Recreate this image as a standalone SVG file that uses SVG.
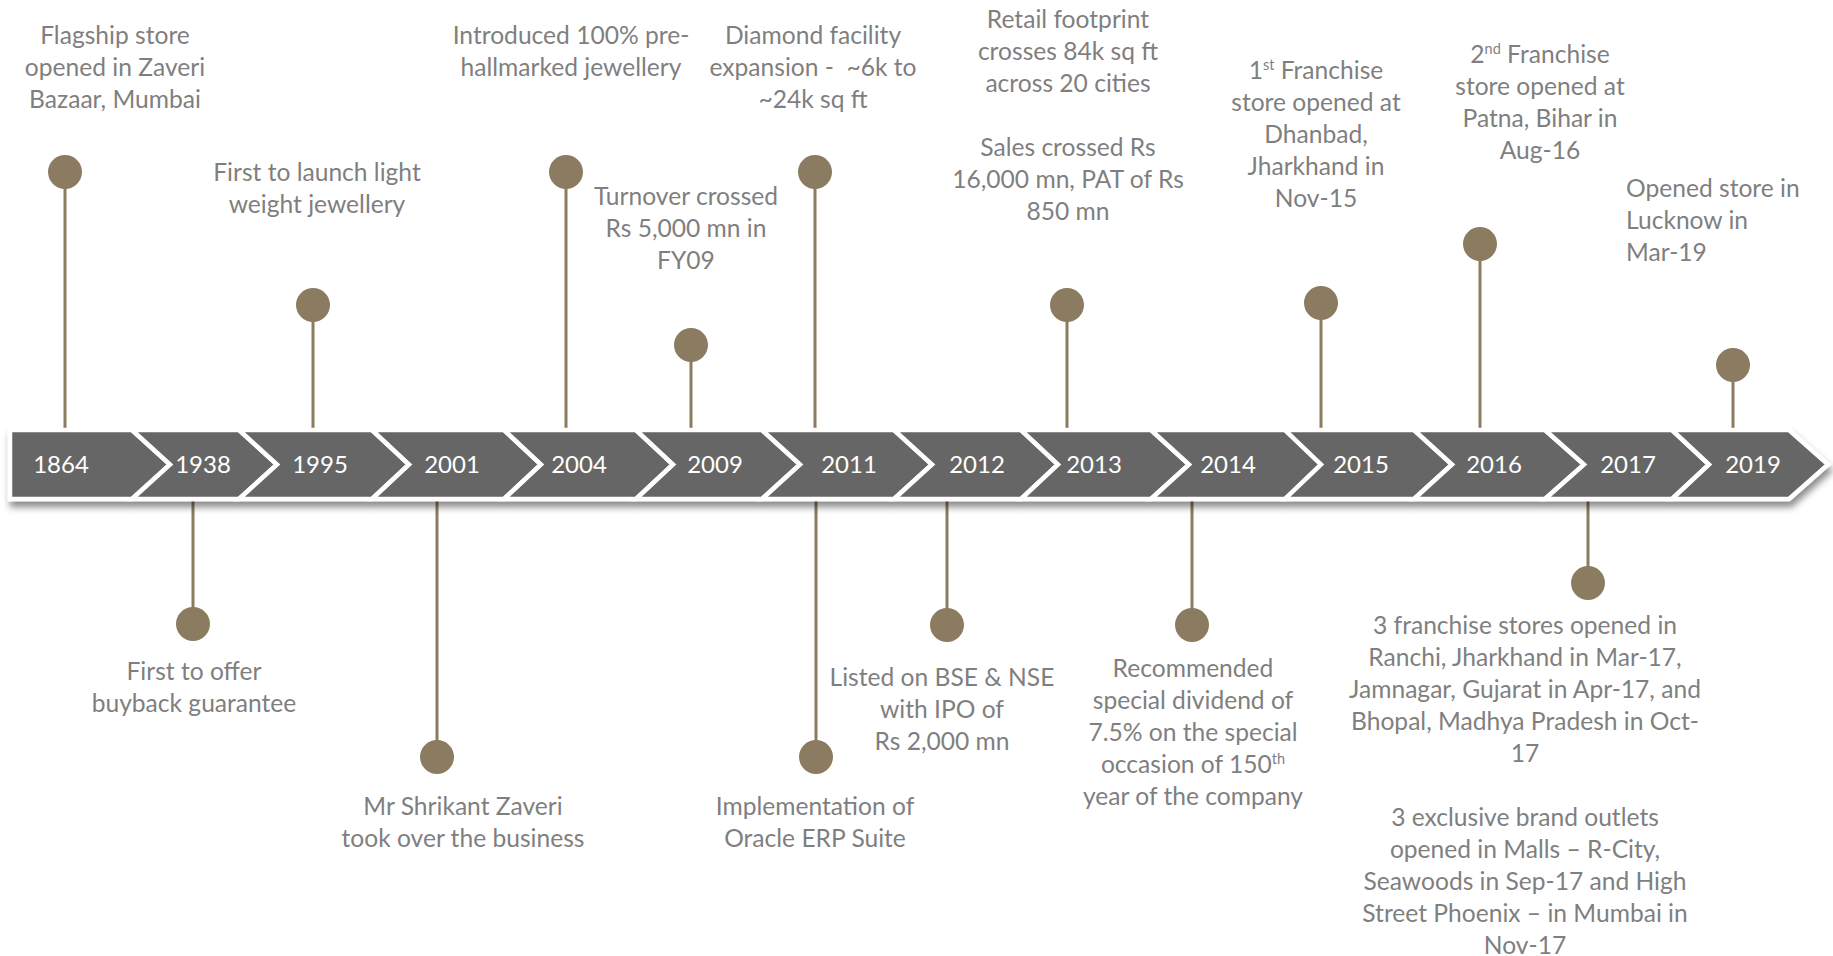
<svg xmlns="http://www.w3.org/2000/svg" width="1833" height="956" viewBox="0 0 1833 956">
<defs>
<style>
.chev{fill:#666666;stroke:#ffffff;stroke-width:4.5;stroke-linejoin:miter}
.yr{font-family:Lato,"Open Sans",sans-serif;font-size:24px;fill:#ffffff;text-anchor:middle}
.lbl{font-family:Lato,"Open Sans",sans-serif;font-size:24.6px;fill:#7f7f7f;text-anchor:middle}
.lbl-l{font-family:Lato,"Open Sans",sans-serif;font-size:24.6px;fill:#7f7f7f;text-anchor:start}
.stem{stroke:#8b7b61;stroke-width:3;fill:none}
.dot{fill:#8b7b61}
.sup{font-size:14.5px}
</style>
<filter id="sh" x="-5%" y="-30%" width="110%" height="180%">
<feDropShadow dx="2" dy="6" stdDeviation="3.5" flood-color="#000000" flood-opacity="0.45"/>
</filter>
</defs>
<rect width="1833" height="956" fill="#ffffff"/>

<g id="connectors">
<line class="stem" x1="65" y1="172" x2="65" y2="432"/>
<line class="stem" x1="313" y1="305" x2="313" y2="432"/>
<line class="stem" x1="566" y1="172" x2="566" y2="432"/>
<line class="stem" x1="691" y1="345" x2="691" y2="432"/>
<line class="stem" x1="815" y1="172" x2="815" y2="432"/>
<line class="stem" x1="1067" y1="305" x2="1067" y2="432"/>
<line class="stem" x1="1321" y1="303" x2="1321" y2="432"/>
<line class="stem" x1="1480" y1="244" x2="1480" y2="432"/>
<line class="stem" x1="1733" y1="365" x2="1733" y2="432"/>
<line class="stem" x1="193" y1="497" x2="193" y2="624"/>
<line class="stem" x1="437" y1="497" x2="437" y2="757"/>
<line class="stem" x1="816" y1="497" x2="816" y2="757"/>
<line class="stem" x1="947" y1="497" x2="947" y2="625"/>
<line class="stem" x1="1192" y1="497" x2="1192" y2="625"/>
<line class="stem" x1="1588" y1="497" x2="1588" y2="583"/>
</g>

<g id="band" filter="url(#sh)">
<path class="chev" d="M10,430 H132 L170,464.5 L132,499 H10 Z"/>
<path class="chev" d="M132,430 H239 L277,464.5 L239,499 H132 L170,464.5 Z"/>
<path class="chev" d="M239,430 H372 L409,464.5 L372,499 H239 L277,464.5 Z"/>
<path class="chev" d="M372,430 H504 L541,464.5 L504,499 H372 L409,464.5 Z"/>
<path class="chev" d="M504,430 H636 L673,464.5 L636,499 H504 L541,464.5 Z"/>
<path class="chev" d="M636,430 H762 L800,464.5 L762,499 H636 L673,464.5 Z"/>
<path class="chev" d="M762,430 H894 L932,464.5 L894,499 H762 L800,464.5 Z"/>
<path class="chev" d="M894,430 H1021 L1058,464.5 L1021,499 H894 L932,464.5 Z"/>
<path class="chev" d="M1021,430 H1151 L1189,464.5 L1151,499 H1021 L1058,464.5 Z"/>
<path class="chev" d="M1151,430 H1285 L1321,464.5 L1285,499 H1151 L1189,464.5 Z"/>
<path class="chev" d="M1285,430 H1414 L1452,464.5 L1414,499 H1285 L1321,464.5 Z"/>
<path class="chev" d="M1414,430 H1545 L1584,464.5 L1545,499 H1414 L1452,464.5 Z"/>
<path class="chev" d="M1545,430 H1672 L1709,464.5 L1672,499 H1545 L1584,464.5 Z"/>
<path class="chev" d="M1672,430 H1789 L1828,464.5 L1789,499 H1672 L1709,464.5 Z"/>
</g>

<g id="years">
<text class="yr" x="61" y="473">1864</text>
<text class="yr" x="203" y="473">1938</text>
<text class="yr" x="320" y="473">1995</text>
<text class="yr" x="452" y="473">2001</text>
<text class="yr" x="579" y="473">2004</text>
<text class="yr" x="715" y="473">2009</text>
<text class="yr" x="849" y="473">2011</text>
<text class="yr" x="977" y="473">2012</text>
<text class="yr" x="1094" y="473">2013</text>
<text class="yr" x="1228" y="473">2014</text>
<text class="yr" x="1361" y="473">2015</text>
<text class="yr" x="1494" y="473">2016</text>
<text class="yr" x="1628" y="473">2017</text>
<text class="yr" x="1753" y="473">2019</text>
</g>

<g id="e1864">
<circle class="dot" cx="65" cy="172" r="17"/>
<text class="lbl" x="115" y="44">Flagship store</text>
<text class="lbl" x="115" y="76">opened in Zaveri</text>
<text class="lbl" x="115" y="108">Bazaar, Mumbai</text>
</g>
<g id="e1938">
<circle class="dot" cx="193" cy="624" r="17"/>
<text class="lbl" x="194" y="680">First to offer</text>
<text class="lbl" x="194" y="712">buyback guarantee</text>
</g>
<g id="e1995">
<circle class="dot" cx="313" cy="305" r="17"/>
<text class="lbl" x="317" y="181">First to launch light</text>
<text class="lbl" x="317" y="213">weight jewellery</text>
</g>
<g id="e2001">
<circle class="dot" cx="437" cy="757" r="17"/>
<text class="lbl" x="463" y="815">Mr Shrikant Zaveri</text>
<text class="lbl" x="463" y="847">took over the business</text>
</g>
<g id="e2004">
<circle class="dot" cx="566" cy="172" r="17"/>
<text class="lbl" x="571" y="44">Introduced 100% pre-</text>
<text class="lbl" x="571" y="76">hallmarked jewellery</text>
</g>
<g id="e2009">
<circle class="dot" cx="691" cy="345" r="17"/>
<text class="lbl" x="686" y="205">Turnover crossed</text>
<text class="lbl" x="686" y="237">Rs 5,000 mn in</text>
<text class="lbl" x="686" y="269">FY09</text>
</g>
<g id="e2011-top">
<circle class="dot" cx="815" cy="172" r="17"/>
<text class="lbl" x="813" y="44">Diamond facility</text>
<text class="lbl" x="813" y="76" xml:space="preserve">expansion -  ~6k to</text>
<text class="lbl" x="813" y="108">~24k sq ft</text>
</g>
<g id="e2011-bottom">
<circle class="dot" cx="816" cy="757" r="17"/>
<text class="lbl" x="815" y="815">Implementation of</text>
<text class="lbl" x="815" y="847">Oracle ERP Suite</text>
</g>
<g id="e2012">
<circle class="dot" cx="947" cy="625" r="17"/>
<text class="lbl" x="942" y="686">Listed on BSE &amp; NSE</text>
<text class="lbl" x="942" y="718">with IPO of</text>
<text class="lbl" x="942" y="750">Rs 2,000 mn</text>
</g>
<g id="e2013">
<circle class="dot" cx="1067" cy="305" r="17"/>
<text class="lbl" x="1068" y="28">Retail footprint</text>
<text class="lbl" x="1068" y="60">crosses 84k sq ft</text>
<text class="lbl" x="1068" y="92">across 20 cities</text>
<text class="lbl" x="1068" y="156">Sales crossed Rs</text>
<text class="lbl" x="1068" y="188">16,000 mn, PAT of Rs</text>
<text class="lbl" x="1068" y="220">850 mn</text>
</g>
<g id="e2014">
<circle class="dot" cx="1192" cy="625" r="17"/>
<text class="lbl" x="1193" y="677">Recommended</text>
<text class="lbl" x="1193" y="709">special dividend of</text>
<text class="lbl" x="1193" y="741">7.5% on the special</text>
<text class="lbl" x="1193" y="773">occasion of 150<tspan class="sup" dy="-9">th</tspan></text>
<text class="lbl" x="1193" y="805">year of the company</text>
</g>
<g id="e2015">
<circle class="dot" cx="1321" cy="303" r="17"/>
<text class="lbl" x="1316" y="79">1<tspan class="sup" dy="-9">st</tspan><tspan dy="9"> Franchise</tspan></text>
<text class="lbl" x="1316" y="111">store opened at</text>
<text class="lbl" x="1316" y="143">Dhanbad,</text>
<text class="lbl" x="1316" y="175">Jharkhand in</text>
<text class="lbl" x="1316" y="207">Nov-15</text>
</g>
<g id="e2016">
<circle class="dot" cx="1480" cy="244" r="17"/>
<text class="lbl" x="1540" y="63">2<tspan class="sup" dy="-9">nd</tspan><tspan dy="9"> Franchise</tspan></text>
<text class="lbl" x="1540" y="95">store opened at</text>
<text class="lbl" x="1540" y="127">Patna, Bihar in</text>
<text class="lbl" x="1540" y="159">Aug-16</text>
</g>
<g id="e2017">
<circle class="dot" cx="1588" cy="583" r="17"/>
<text class="lbl" x="1525" y="634">3 franchise stores opened in</text>
<text class="lbl" x="1525" y="666">Ranchi, Jharkhand in Mar-17,</text>
<text class="lbl" x="1525" y="698">Jamnagar, Gujarat in Apr-17, and</text>
<text class="lbl" x="1525" y="730">Bhopal, Madhya Pradesh in Oct-</text>
<text class="lbl" x="1525" y="762">17</text>
<text class="lbl" x="1525" y="826">3 exclusive brand outlets</text>
<text class="lbl" x="1525" y="858">opened in Malls – R-City,</text>
<text class="lbl" x="1525" y="890">Seawoods in Sep-17 and High</text>
<text class="lbl" x="1525" y="922">Street Phoenix – in Mumbai in</text>
<text class="lbl" x="1525" y="954">Nov-17</text>
</g>
<g id="e2019">
<circle class="dot" cx="1733" cy="365" r="17"/>
<text class="lbl-l" x="1626" y="197">Opened store in</text>
<text class="lbl-l" x="1626" y="229">Lucknow in</text>
<text class="lbl-l" x="1626" y="261">Mar-19</text>
</g>
</svg>
